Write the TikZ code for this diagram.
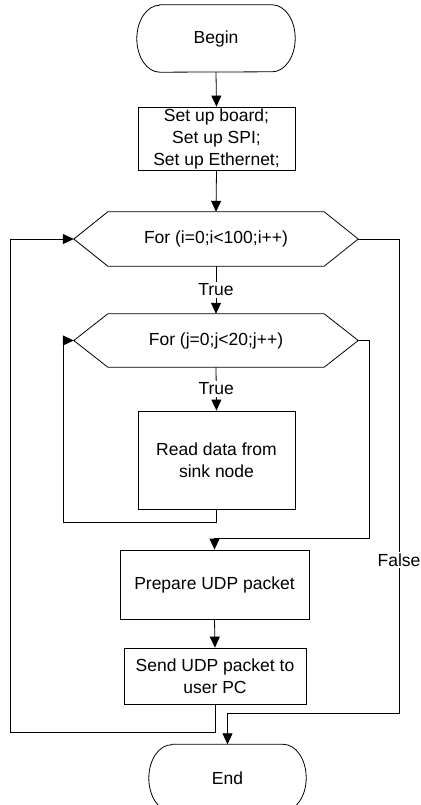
\documentclass[tikz,border=0pt]{standalone}
\usepackage{fontspec}
\setmainfont{Liberation Sans}
\usetikzlibrary{arrows.meta}
\begin{document}
\begin{tikzpicture}[x=1pt,y=-1pt,
  every node/.style={font=\fontsize{17.5}{22}\selectfont, inner sep=0pt, align=center},
  box/.style={draw, rectangle, line width=0.8pt},
  term/.style={rectangle, minimum width=158pt, minimum height=67pt},
  hexa/.style={rectangle, minimum width=284pt, minimum height=54pt},
  conn/.style={line width=0.8pt, -{Triangle[length=11pt,width=10pt]}},
  lbl/.style={fill=white, inner sep=1.5pt},
  lw/.style={line width=0.8pt}]
\clip (0,0) rectangle (420,805);
\fill[white] (0,0) rectangle (420,805);

\node[term] (start) at (216,38.5) {Begin};
\node[box, minimum width=157pt, minimum height=63pt] (setup) at (216.5,138.5) {Set up board;\\Set up SPI;\\Set up Ethernet;};
\node[hexa] (fi) at (216,239) {For (i=0;i<100;i++)};
\node[hexa, minimum height=53pt] (fj) at (216,340.5) {For (j=0;j<20;j++)};
\node[box, minimum width=157pt, minimum height=98pt] (read) at (216.5,460) {Read data from\\sink node};
\node[box, minimum width=189pt, minimum height=69pt] (prep) at (214.5,584.5) {Prepare UDP packet};
\node[box, minimum width=182pt, minimum height=56pt] (send) at (215,676) {Send UDP packet to\\user PC};
\node[term, minimum width=157pt] (fin) at (227.5,778) {End};

% terminal outlines
\foreach \n in {start,fin}{
  \draw[lw] ([xshift=23pt]\n.north west) -- ([xshift=-23pt]\n.north east)
    arc[start angle=90,end angle=-90,x radius=23pt,y radius=33.5pt]
    -- ([xshift=23pt]\n.south west)
    arc[start angle=270,end angle=90,x radius=23pt,y radius=33.5pt] -- cycle;
}
% hexagon outlines
\foreach \n in {fi,fj}{
  \draw[lw] (\n.west) -- ([xshift=34pt]\n.north west) -- ([xshift=-34pt]\n.north east)
    -- (\n.east) -- ([xshift=-34pt]\n.south east) -- ([xshift=34pt]\n.south west) -- cycle;
}

\coordinate (c1) at (63,522);
\coordinate (c2) at (369,538);
\coordinate (c3) at (10,732);
\coordinate (c4) at (399,713);
\coordinate (c5) at (399,239);

\draw[conn] (start.south) -- (setup.north);
\draw[conn] (setup.south) -- (fi.north);
\draw[conn] (fi.south) -- node[lbl]{True} (fj.north);
\draw[conn] (fj.south) -- node[lbl]{True} (read.north);
\draw[conn] (read.south) |- (c1) |- (fj.west);
\draw[conn] (fj.east) -| (c2) -| (prep.north);
\draw[conn] (prep.south) -- (send.north);
\draw[conn] (send.south) |- (c3) |- (fi.west);
\draw[conn] (fi.east) -- (c5) -- node[lbl,pos=0.677]{False} (c4) -| (fin.north);
\end{tikzpicture}
\end{document}
